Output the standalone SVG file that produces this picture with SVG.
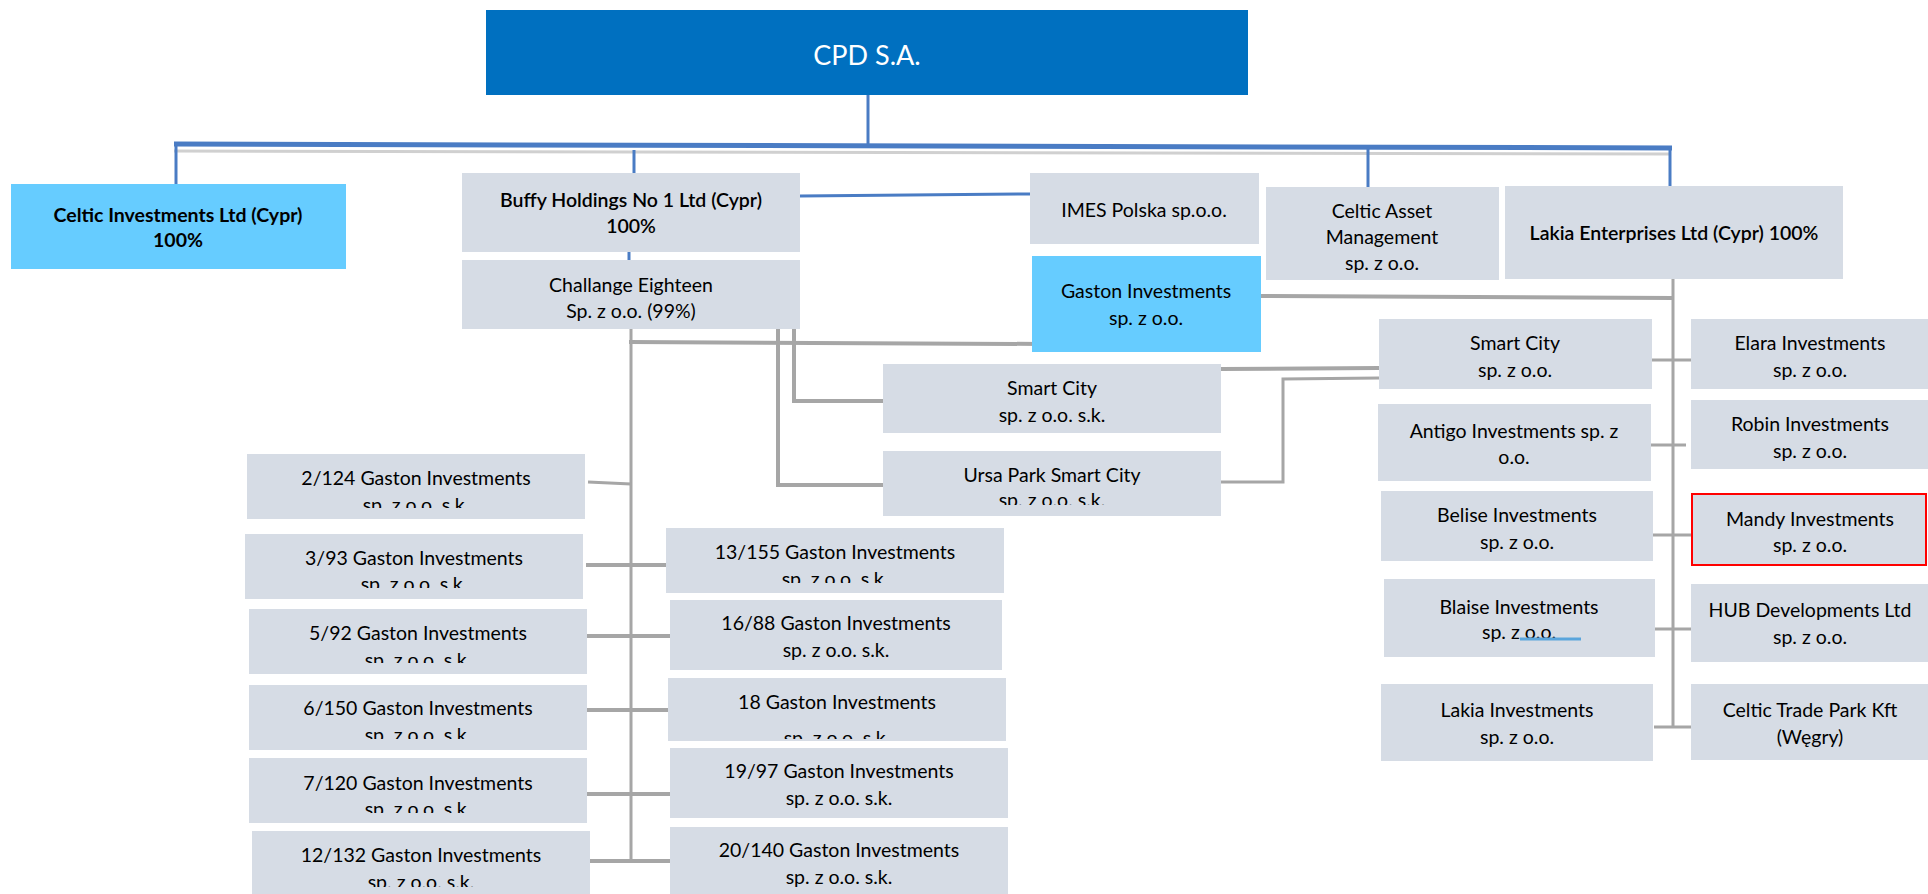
<svg xmlns="http://www.w3.org/2000/svg" width="1928" height="894" viewBox="0 0 1928 894">
<style>
.box{fill:#d6dce5}
.hi{fill:#66ccff}
text{font-family:Lato,"Liberation Sans",sans-serif;font-size:19.5px;fill:#000;text-anchor:middle}
.b{font-weight:bold}
.m{font-weight:600}
.gc{stroke:#a6a6a6;stroke-width:3;fill:none}
.gt{stroke:#a6a6a6;stroke-width:4;fill:none}
.bc{stroke:#4a7cc4;stroke-width:3;fill:none}
</style>
<defs>
<clipPath id="c1"><rect x="247" y="454" width="338" height="54"/></clipPath>
<clipPath id="c2"><rect x="245" y="534" width="338" height="54"/></clipPath>
<clipPath id="c3"><rect x="249" y="609" width="338" height="54"/></clipPath>
<clipPath id="c4"><rect x="249" y="685" width="338" height="54"/></clipPath>
<clipPath id="c5"><rect x="249" y="758" width="338" height="55"/></clipPath>
<clipPath id="c6"><rect x="252" y="831" width="338" height="56"/></clipPath>
<clipPath id="c7"><rect x="666" y="528" width="338" height="55"/></clipPath>
<clipPath id="c8"><rect x="668" y="678" width="338" height="61"/></clipPath>
<clipPath id="c9"><rect x="883" y="451" width="338" height="54"/></clipPath>
</defs>
<rect width="1928" height="894" fill="#fff"/>
<g id="connectors">
<line x1="174" y1="151" x2="1670" y2="154" stroke="#d0d0d0" stroke-width="3"/>
<line x1="174" y1="144" x2="1672" y2="148" stroke="#4a7cc4" stroke-width="5"/>
<line class="bc" x1="868" y1="95" x2="868" y2="145"/>
<line class="bc" x1="176" y1="145" x2="176" y2="184"/>
<line class="bc" x1="634" y1="150" x2="634" y2="173"/>
<line class="bc" x1="629" y1="252" x2="629" y2="260" stroke-width="4"/>
<line class="bc" x1="800" y1="196" x2="1030" y2="194"/>
<line class="bc" x1="1368" y1="148" x2="1368" y2="187" stroke-width="2"/>
<line class="bc" x1="1670" y1="148" x2="1670" y2="186" stroke-width="4"/>
<line class="gc" x1="631" y1="329" x2="631" y2="859"/>
<line class="gt" x1="629" y1="342" x2="1042" y2="344"/>
<polyline class="gt" points="778,329 778,485 883,485"/>
<polyline class="gt" points="794,329 794,401 883,401"/>
<line class="gc" x1="588" y1="482" x2="631" y2="484"/>
<line class="gt" x1="586" y1="565" x2="666" y2="565"/>
<line class="gt" x1="587" y1="636" x2="670" y2="636"/>
<line class="gt" x1="587" y1="710" x2="668" y2="710"/>
<line class="gt" x1="587" y1="794" x2="670" y2="794"/>
<line class="gt" x1="590" y1="861" x2="670" y2="861"/>
<line class="gt" x1="1221" y1="369" x2="1379" y2="368"/>
<polyline class="gc" points="1221,482 1283,482 1283,379 1379,378" stroke-width="4"/>
<line class="gt" x1="1261" y1="296" x2="1673" y2="298"/>
<line class="gc" x1="1673" y1="279" x2="1673" y2="727"/>
<line class="gc" x1="1652" y1="360" x2="1691" y2="360"/>
<line class="gc" x1="1645" y1="445" x2="1686" y2="445"/>
<line class="gc" x1="1653" y1="535" x2="1691" y2="535"/>
<line class="gc" x1="1650" y1="629" x2="1691" y2="629"/>
<line class="gc" x1="1654" y1="727" x2="1691" y2="727"/>
</g>
<g id="cpd"><rect x="486" y="10" width="762" height="85" fill="#0070c0"/><text x="867" y="65" style="font-size:27px;fill:#fff">CPD S.A.</text></g>
<g id="celtic-investments"><rect class="hi" x="11" y="184" width="335" height="85"/><text class="b" x="178" y="222">Celtic Investments Ltd (Cypr)</text><text class="b" x="178" y="247">100%</text></g>
<g id="buffy"><rect class="box" x="462" y="173" width="338" height="79"/><text class="m" x="631" y="207">Buffy Holdings No 1 Ltd (Cypr)</text><text class="m" x="631" y="233">100%</text></g>
<g id="challange"><rect class="box" x="462" y="260" width="338" height="69"/><text x="631" y="292">Challange Eighteen</text><text x="631" y="318">Sp. z o.o. (99%)</text></g>
<g id="imes"><rect class="box" x="1030" y="173" width="229" height="71"/><text x="1144" y="217">IMES Polska sp.o.o.</text></g>
<g id="celtic-asset"><rect class="box" x="1266" y="187" width="233" height="93"/><text x="1382" y="218">Celtic Asset</text><text x="1382" y="244">Management</text><text x="1382" y="270">sp. z o.o.</text></g>
<g id="lakia-enterprises"><rect class="box" x="1505" y="186" width="338" height="93"/><text class="m" x="1674" y="240">Lakia Enterprises Ltd (Cypr) 100%</text></g>
<g id="gaston"><rect class="hi" x="1032" y="256" width="229" height="96"/><text x="1146" y="298">Gaston Investments</text><text x="1146" y="325">sp. z o.o.</text></g>
<g id="smart-city-sk"><rect class="box" x="883" y="364" width="338" height="69"/><text x="1052" y="395">Smart City</text><text x="1052" y="422">sp. z o.o. s.k.</text></g>
<g id="ursa"><rect class="box" x="883" y="451" width="338" height="65"/><text x="1052" y="482">Ursa Park Smart City</text><text x="1052" y="507" clip-path="url(#c9)">sp. z o.o. s.k.</text></g>
<g id="smart-city"><rect class="box" x="1379" y="319" width="273" height="70"/><text x="1515" y="350">Smart City</text><text x="1515" y="377">sp. z o.o.</text></g>
<g id="elara"><rect class="box" x="1691" y="319" width="237" height="70"/><text x="1810" y="350">Elara Investments</text><text x="1810" y="377">sp. z o.o.</text></g>
<g id="antigo"><rect class="box" x="1378" y="404" width="273" height="77"/><text x="1514" y="438">Antigo Investments sp. z</text><text x="1514" y="464">o.o.</text></g>
<g id="robin"><rect class="box" x="1691" y="400" width="237" height="69"/><text x="1810" y="431">Robin Investments</text><text x="1810" y="458">sp. z o.o.</text></g>
<g id="belise"><rect class="box" x="1381" y="491" width="272" height="70"/><text x="1517" y="522">Belise Investments</text><text x="1517" y="549">sp. z o.o.</text></g>
<g id="mandy"><rect class="box" x="1692" y="494" width="234" height="71" stroke="#ff0000" stroke-width="2"/><text x="1810" y="526">Mandy Investments</text><text x="1810" y="552">sp. z o.o.</text></g>
<g id="blaise"><rect class="box" x="1384" y="579" width="271" height="78"/><text x="1519" y="614">Blaise Investments</text><text x="1519" y="639">sp. z o.o.</text><line x1="1520" y1="639" x2="1581" y2="639" stroke="#5aa5dc" stroke-width="3"/></g>
<g id="hub"><rect class="box" x="1691" y="584" width="237" height="78"/><text x="1810" y="617">HUB Developments Ltd</text><text x="1810" y="644">sp. z o.o.</text></g>
<g id="lakia-investments"><rect class="box" x="1381" y="684" width="272" height="77"/><text x="1517" y="717">Lakia Investments</text><text x="1517" y="744">sp. z o.o.</text></g>
<g id="celtic-trade"><rect class="box" x="1691" y="684" width="237" height="76"/><text x="1810" y="717">Celtic Trade Park Kft</text><text x="1810" y="744">(Węgry)</text></g>
<g id="g2-124"><rect class="box" x="247" y="454" width="338" height="65"/><text x="416" y="485">2/124 Gaston Investments</text><text x="416" y="512" clip-path="url(#c1)">sp. z o.o. s.k.</text></g>
<g id="g3-93"><rect class="box" x="245" y="534" width="338" height="65"/><text x="414" y="565">3/93 Gaston Investments</text><text x="414" y="591" clip-path="url(#c2)">sp. z o.o. s.k.</text></g>
<g id="g5-92"><rect class="box" x="249" y="609" width="338" height="65"/><text x="418" y="640">5/92 Gaston Investments</text><text x="418" y="667" clip-path="url(#c3)">sp. z o.o. s.k.</text></g>
<g id="g6-150"><rect class="box" x="249" y="685" width="338" height="65"/><text x="418" y="715">6/150 Gaston Investments</text><text x="418" y="742" clip-path="url(#c4)">sp. z o.o. s.k.</text></g>
<g id="g7-120"><rect class="box" x="249" y="758" width="338" height="65"/><text x="418" y="790">7/120 Gaston Investments</text><text x="418" y="816" clip-path="url(#c5)">sp. z o.o. s.k.</text></g>
<g id="g12-132"><rect class="box" x="252" y="831" width="338" height="70"/><text x="421" y="862">12/132 Gaston Investments</text><text x="421" y="889" clip-path="url(#c6)">sp. z o.o. s.k.</text></g>
<g id="g13-155"><rect class="box" x="666" y="528" width="338" height="65"/><text x="835" y="559">13/155 Gaston Investments</text><text x="835" y="586" clip-path="url(#c7)">sp. z o.o. s.k.</text></g>
<g id="g16-88"><rect class="box" x="670" y="600" width="332" height="70"/><text x="836" y="630">16/88 Gaston Investments</text><text x="836" y="657">sp. z o.o. s.k.</text></g>
<g id="g18"><rect class="box" x="668" y="678" width="338" height="63"/><text x="837" y="709">18 Gaston Investments</text><text x="837" y="745" clip-path="url(#c8)">sp. z o.o. s.k.</text></g>
<g id="g19-97"><rect class="box" x="670" y="748" width="338" height="70"/><text x="839" y="778">19/97 Gaston Investments</text><text x="839" y="805">sp. z o.o. s.k.</text></g>
<g id="g20-140"><rect class="box" x="670" y="827" width="338" height="70"/><text x="839" y="857">20/140 Gaston Investments</text><text x="839" y="884">sp. z o.o. s.k.</text></g>
</svg>
